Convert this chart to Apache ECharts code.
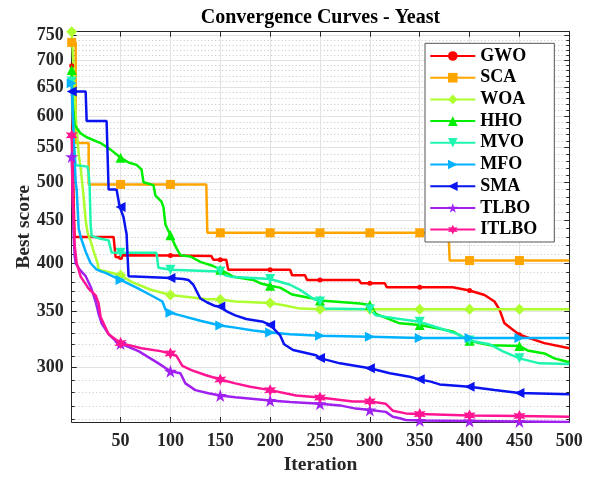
<!DOCTYPE html>
<html><head><meta charset="utf-8">
<script src="https://cdn.jsdelivr.net/npm/echarts@6.0.0/dist/echarts.min.js"></script>
<style>html,body{margin:0;padding:0;background:#fff}#c{width:592px;height:479px}</style>
</head><body><div id="c"></div>
<script>
// ---- data (iteration, best score) ----
const iterTicks = [50, 100, 150, 200, 250, 300, 350, 400, 450, 500];
const scoreTicks = [300, 350, 400, 450, 500, 550, 600, 650, 700, 750];
const markerIters = [1, 50, 100, 150, 200, 250, 300, 350, 400, 450];
const seriesNames = ['GWO', 'SCA', 'WOA', 'HHO', 'MVO', 'MFO', 'SMA', 'TLBO', 'ITLBO'];

const gwo = [[1,689],[2,560],[3,470],[4,430],[43,430],[45,407],[50,406.5],[52,409],[100,408.5],[141,408],[143,404],[150,404],[156,404],[158,393],[200,393],[220,393],[222,387],[235,387],[237,382],[250,382],[289,382],[291,378.6],[300,378.6],[315,378.6],[317,374.4],[350,374.4],[383,374.4],[400,371],[415,366.5],[425,360],[430,352],[435,339],[445,332],[450,328.5],[475,321],[500,316.5]];
const sca = [[1,735],[5,735],[5,557],[18,557],[18,497],[50,497],[100,497],[136,497],[137,435],[150,435],[200,435],[250,435],[300,435],[350,435],[379,435],[380,403],[400,403],[450,403],[500,403]];
const woa = [[1,757],[3,680],[5,600],[8,540],[10,520],[13,480],[15,450],[17,435],[20,425],[24,410],[27,400],[28,393],[40,390],[50,387],[61,380],[81,371.6],[100,366.6],[135,362.5],[150,362],[165,360],[200,358.5],[215,356],[230,353],[250,352.5],[300,352.5],[350,352.5],[400,352.5],[450,352.5],[500,352.5]];
const hho = [[1,681],[2,620],[4,585],[10,572],[16,566],[30,557],[40,547],[45,541],[50,535],[58,528],[66,524.5],[71,518],[73,500],[83,496],[85,482],[91,474],[93,467],[95,445],[100,432],[106,417],[110,409],[120,407.5],[130,401.5],[143,397],[150,393],[163,385.5],[183,382],[190,378.6],[200,376],[210,374],[222,367],[243,363],[250,361],[290,358],[300,356.5],[306,348],[330,339],[350,337.5],[370,334],[383,331.5],[392,327],[400,323],[410,321],[421,319.2],[450,318.5],[458,314.6],[475,312],[485,307.8],[498,305],[500,305]];
const mvo = [[1,660],[3,560],[5,524],[17,522],[18,512],[19,494],[20,445],[21,431],[30,428],[38,426],[41,412],[50,411.6],[86,411.6],[88,395],[100,393],[150,391],[155,387],[160,385.5],[200,383],[220,377],[230,371.7],[243,363],[250,360],[254,353],[300,352.5],[306,346.5],[330,343],[350,340.4],[370,334.4],[388,329],[400,323.3],[420,320],[433,314],[450,307.8],[470,303.6],[500,303]];
const mfo = [[1,657],[3,560],[5,500],[6,490],[8,440],[10,430],[15,413],[20,400],[26,393],[36,389],[46,384],[50,382],[66,374],[80,366.5],[92,360],[95,352],[100,349],[110,346.5],[130,341.4],[150,337],[165,335],[183,332.3],[200,330.6],[220,329],[250,327.5],[300,326.7],[350,325.5],[400,325.5],[450,325.5],[500,325.5]];
const sma = [[1,642],[15,642],[16,592],[36,592],[38,490],[46,490],[49,468],[50,467],[53,454],[55,440],[56,434],[58,386],[100,384],[113,383],[118,382],[123,377],[130,363],[137,359],[145,355.5],[150,355],[157,350],[165,346.5],[176,343],[193,340.4],[200,337.5],[210,328],[214,320],[223,315],[246,310.5],[250,308],[270,303.6],[300,299.5],[320,295.5],[340,292.6],[350,290.5],[361,288.7],[370,286.5],[400,284.7],[425,282.1],[450,279.8],[500,278.8]];
const tlbo = [[1,536.5],[2,480],[3,430],[4,408],[5,400],[9,393],[15,386],[20,375],[25,360],[28,348],[31,339],[38,329],[45,323],[50,320.6],[68,314],[88,303.6],[100,297],[110,295.4],[115,287.3],[125,282],[138,279.6],[150,277.8],[165,276.6],[200,274.1],[220,273],[250,271.6],[270,270.4],[286,268],[300,267],[316,265.6],[323,262],[330,261],[336,259.7],[350,259.3],[400,259],[450,258.7],[500,258.3]];
const itlbo = [[1,569],[2,480],[4,420],[6,400],[10,385.5],[18,373],[25,366],[28,358],[30,345],[38,329],[50,321],[71,316.5],[90,314],[100,312],[106,310],[112,301.5],[121,298],[135,294],[150,290.4],[165,287.3],[180,284.7],[200,282],[226,277.8],[250,276.3],[283,273.3],[300,273.4],[316,271.6],[323,266.5],[336,264.5],[350,264],[400,263],[450,262.6],[500,262]];

// ---- styles ----
const FONT = '"Liberation Serif", "Times New Roman", serif';
const TXT = '#262626';
const PENTA = 'path://M50 0 L61.23 34.55 L97.55 34.55 L68.17 55.9 L79.39 90.45 L50 69.1 L20.61 90.45 L31.83 55.9 L2.45 34.55 L38.77 34.55 Z';
const HEXA = 'path://M50 0 L62.5 28.35 L93.3 25 L75 50 L93.3 75 L62.5 71.65 L50 100 L37.5 71.65 L6.7 75 L25 50 L6.7 25 L37.5 28.35 Z';
const styles = [
  {color:'#FF0000', symbol:'circle', size:5, rotate:0},
  {color:'#FFA500', symbol:'rect', size:9, rotate:0},
  {color:'#ADFF2F', symbol:'diamond', size:11, rotate:0},
  {color:'#00EE00', symbol:'triangle', size:10, rotate:0},
  {color:'#1EF5B0', symbol:'triangle', size:10, rotate:180},
  {color:'#00B2FF', symbol:'triangle', size:10, rotate:-90},
  {color:'#0A14F0', symbol:'triangle', size:10, rotate:90},
  {color:'#A020F0', symbol:PENTA, size:13, rotate:0},
  {color:'#FF1493', symbol:HEXA, size:12, rotate:0}
];
const allData = [gwo, sca, woa, hho, mvo, mfo, sma, tlbo, itlbo];

const series = allData.map((pts, i) => {
  const st = styles[i];
  return {
    type: 'line', name: seriesNames[i], xAxisIndex: 0, yAxisIndex: 0,
    symbol: st.symbol, symbolSize: st.size, symbolRotate: st.rotate,
    showAllSymbol: true, animation: false, silent: true,
    lineStyle: {color: st.color, width: 2.5},
    itemStyle: {color: st.color, borderWidth: 0},
    data: pts.map(p => ({value: p, symbol: markerIters.indexOf(p[0]) >= 0 ? st.symbol : 'none'}))
  };
});

const minorTicks = [];
for (let v = 260; v <= 750; v += 10) if (v % 50 !== 0) minorTicks.push(v);

const YMIN = 258.3, YMAX = 757;
const labelStyle = {color: TXT, fontFamily: FONT, fontWeight: 'bold', fontSize: 18};

const chart = echarts.init(document.getElementById('c'), null, {renderer: 'canvas'});
chart.setOption({
  backgroundColor: '#fff',
  animation: false,
  grid: {left: 71.7, right: 22.7, top: 31.7, bottom: 57, containLabel: false, outerBoundsMode: 'none'},
  graphic: [{type: 'text', x: 320.5, y: 18.3, style: {text: 'Convergence Curves - Yeast', align: 'center', verticalAlign: 'middle', font: 'bold 20px ' + FONT, fill: '#000'}}],
  legend: {
    data: seriesNames, orient: 'vertical', left: 425, top: 43.3,
    itemWidth: 45, itemHeight: 12, itemGap: 1.7,
    padding: [2.7, 17, 2.4, 4.3],
    backgroundColor: '#fff', borderColor: '#555', borderWidth: 1, borderRadius: 0,
    textStyle: {color: '#000', fontFamily: FONT, fontWeight: 'bold', fontSize: 18, lineHeight: 20},
    selectedMode: false
  },
  xAxis: [
    {type: 'value', min: 1, max: 500, position: 'bottom',
     axisLine: {show: true, onZero: false, lineStyle: {color: TXT, width: 1}},
     axisTick: {show: true, inside: true, length: 5, customValues: iterTicks, lineStyle: {color: TXT}},
     axisLabel: Object.assign({customValues: iterTicks, margin: 10}, labelStyle),
     splitLine: {show: true, lineStyle: {color: '#E3E3E3', width: 1}},
     name: 'Iteration', nameLocation: 'middle', nameGap: 33, nameMoveOverlap: false,
     nameTextStyle: {color: TXT, fontFamily: FONT, fontWeight: 'bold', fontSize: 19.5}},
    {type: 'value', min: 1, max: 500, position: 'top',
     axisLine: {show: true, onZero: false, lineStyle: {color: TXT, width: 1}},
     axisTick: {show: true, inside: true, length: 5, customValues: iterTicks, lineStyle: {color: TXT}},
     axisLabel: {show: false}, splitLine: {show: false}}
  ],
  yAxis: [
    {type: 'log', logBase: 10, min: YMIN, max: YMAX, position: 'left',
     axisLine: {show: true, onZero: false, lineStyle: {color: TXT, width: 1}},
     axisTick: {show: true, inside: true, length: 5, customValues: scoreTicks, lineStyle: {color: TXT}},
     axisLabel: Object.assign({customValues: scoreTicks, margin: 8}, labelStyle),
     splitLine: {show: true, lineStyle: {color: '#E3E3E3', width: 1}},
     minorTick: {show: false}, minorSplitLine: {show: false},
     name: 'Best score', nameLocation: 'middle', nameGap: 38, nameMoveOverlap: false,
     nameTextStyle: {color: TXT, fontFamily: FONT, fontWeight: 'bold', fontSize: 19.5}},
    {type: 'log', logBase: 10, min: YMIN, max: YMAX, position: 'left',
     axisLine: {show: false},
     axisTick: {show: true, inside: true, length: 3, customValues: minorTicks, lineStyle: {color: TXT}},
     axisLabel: {show: false},
     splitLine: {show: true, lineStyle: {color: '#C4C4C4', width: 1, type: [1, 2.5]}}},
    {type: 'log', logBase: 10, min: YMIN, max: YMAX, position: 'right',
     axisLine: {show: true, onZero: false, lineStyle: {color: TXT, width: 1}},
     axisTick: {show: true, inside: true, length: 5, customValues: scoreTicks, lineStyle: {color: TXT}},
     axisLabel: {show: false}, splitLine: {show: false}},
    {type: 'log', logBase: 10, min: YMIN, max: YMAX, position: 'right',
     axisLine: {show: false},
     axisTick: {show: true, inside: true, length: 3, customValues: minorTicks, lineStyle: {color: TXT}},
     axisLabel: {show: false}, splitLine: {show: false}}
  ],
  series: series
});
</script>
</body></html>
